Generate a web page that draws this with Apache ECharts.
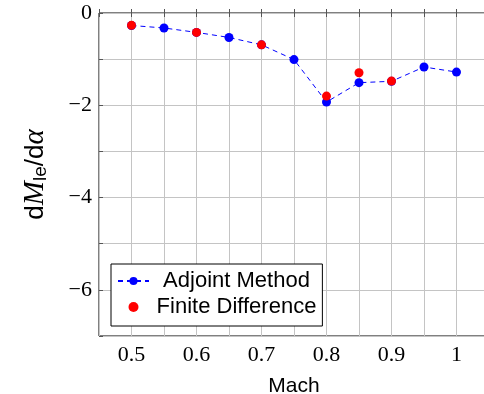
<!DOCTYPE html>
<html><head><meta charset="utf-8">
<script src="https://cdn.jsdelivr.net/npm/echarts@6/dist/echarts.min.js"></script>
<style>html,body{margin:0;padding:0;background:#fff;overflow:hidden}#c{width:484px;height:394px}</style>
</head><body><div id="c"></div>
<script>
const mach = [0.5,0.55,0.6,0.65,0.7,0.75,0.8,0.85,0.9,0.95,1.0];
const adjoint = [-0.27,-0.325,-0.42,-0.53,-0.69,-1.01,-1.93,-1.51,-1.48,-1.17,-1.28];
const fdMach = [0.5,0.6,0.7,0.8,0.85,0.9];
const finiteDiff = [-0.267,-0.42,-0.69,-1.80,-1.295,-1.475];
const xTickLabels = ['0.5','0.6','0.7','0.8','0.9','1'];
const yTickLabels = ['0','\u22122','\u22124','\u22126'];

const chart = echarts.init(document.getElementById('c'), null, {renderer:'canvas'});
const sans = 'Liberation Sans';
const serif = 'Liberation Serif';
const gridColor = '#c4c4c4';
const tickColor = '#555';

function xFmt(v){
  const k = Math.round(v*20);
  if (k % 2 !== 0) return '';
  const idx = (k - 10)/2;
  return (idx >= 0 && idx < xTickLabels.length) ? xTickLabels[idx] : '';
}
function yFmt(v){
  const k = Math.round(-v);
  if (k % 2 !== 0) return '';
  const idx = k/2;
  return (idx >= 0 && idx < yTickLabels.length) ? yTickLabels[idx] : '';
}

const baseX = {type:'value', min:0.45, max:1.05, interval:0.05};
const baseY = {type:'value', min:-7, max:0, interval:1};

chart.setOption({
  animation:false,
  grid:{left:99, top:13, width:390, height:323, show:true, borderColor:'#000', borderWidth:1,
        containLabel:false, outerBoundsMode:'none'},
  legend:{
    left:111, top:264, orient:'vertical',
    backgroundColor:'#fff', borderColor:'#000', borderWidth:1,
    padding:[6,6,8,6], itemGap:4, itemWidth:31, itemHeight:10,
    data:[{name:'Adjoint Method'},{name:'Finite Difference'}],
    formatter: n => '{c|' + n + '}',
    textStyle:{fontFamily:sans, fontSize:22, color:'#000',
      rich:{c:{width:165, align:'center', fontFamily:sans, fontSize:22, color:'#000'}}}
  },
  xAxis:[
    Object.assign({}, baseX, {
      position:'bottom',
      name:'Mach', nameLocation:'middle', nameGap:40,
      nameTextStyle:{fontFamily:sans, fontSize:21, color:'#000'},
      axisLine:{show:false},
      axisTick:{show:true, inside:true, length:4, lineStyle:{color:tickColor}},
      axisLabel:{formatter:xFmt, fontFamily:serif, fontSize:22, color:'#000', margin:8},
      splitLine:{show:true, lineStyle:{color:gridColor, width:1}}
    }),
    Object.assign({}, baseX, {
      position:'top',
      axisLine:{show:false},
      axisTick:{show:true, inside:true, length:4, lineStyle:{color:tickColor}},
      axisLabel:{show:false},
      splitLine:{show:false}
    })
  ],
  yAxis:[
    Object.assign({}, baseY, {
      position:'left',
      name:'{d|d}{M|M}{s|le}{d|/d}{a|\u03b1}', nameLocation:'middle', nameGap:49,
      nameTextStyle:{fontFamily:sans, fontSize:26, color:'#000',
        rich:{
          d:{fontFamily:sans, fontSize:26, color:'#000'},
          M:{fontFamily:serif, fontStyle:'italic', fontSize:29, color:'#000'},
          s:{fontFamily:sans, fontSize:19, color:'#000', verticalAlign:'bottom', lineHeight:16},
          a:{fontFamily:serif, fontStyle:'italic', fontSize:29, color:'#000'}
        }},
      axisLine:{show:false},
      axisTick:{show:true, inside:true, length:4, lineStyle:{color:tickColor}},
      axisLabel:{formatter:yFmt, fontFamily:serif, fontSize:22, color:'#000', margin:7},
      splitLine:{show:true, lineStyle:{color:gridColor, width:1}}
    }),
    Object.assign({}, baseY, {
      position:'right',
      axisLine:{show:false},
      axisTick:{show:true, inside:true, length:4, lineStyle:{color:tickColor}},
      axisLabel:{show:false},
      splitLine:{show:false}
    })
  ],
  series:[
    {
      name:'Adjoint Method', type:'line', xAxisIndex:0, yAxisIndex:0,
      data: mach.map((m,i)=>[m, adjoint[i]]),
      symbol:'circle', symbolSize:9, showSymbol:true,
      itemStyle:{color:'#0000ff'},
      lineStyle:{color:'#0000ff', width:1, type:[5,4]},
      z:2
    },
    {
      name:'Finite Difference', type:'scatter', xAxisIndex:0, yAxisIndex:0,
      data: fdMach.map((m,i)=>[m, finiteDiff[i]]),
      symbol:'circle', symbolSize:9,
      itemStyle:{color:'#ff0000', opacity:1},
      z:3
    }
  ]
});
</script>
</body></html>
